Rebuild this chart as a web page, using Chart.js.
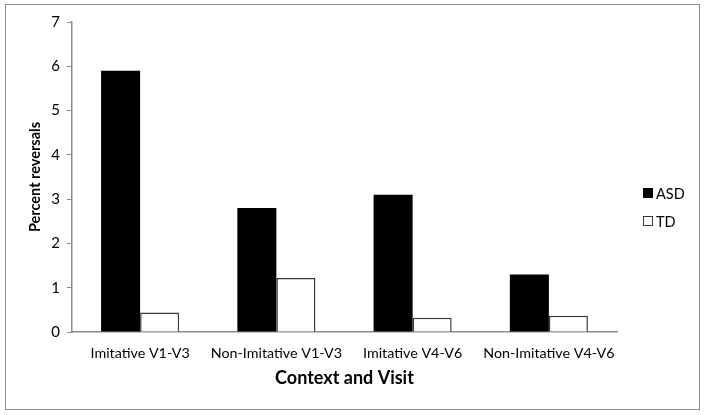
<!DOCTYPE html>
<html>
<head>
<meta charset="utf-8">
<script src="https://cdn.jsdelivr.net/npm/chart.js@4"></script>
<style>
    html, body { margin: 0; padding: 0; background: #fff; }
    #box {
        position: absolute;
        left: 5px; top: 4px;
        width: 693px; height: 404px;
        border: 1px solid #8c8c8c;
    }
</style>
</head>
<body>
<div id="box"><canvas id="chart" width="693" height="404"></canvas></div>
<script>
const categories = ["Imitative V1-V3", "Non-Imitative V1-V3", "Imitative V4-V6", "Non-Imitative V4-V6"];
const asdValues = [5.9, 2.8, 3.1, 1.3];
const tdValues = [0.44, 1.22, 0.32, 0.37];
const seriesNames = ["ASD", "TD"];
const yTicks = [0, 1, 2, 3, 4, 5, 6, 7];

const FONT = "Lato, 'Open Sans', sans-serif";
const AXIS = "#8c8c8c";

// legend drawn on the right, centred on the whole frame like the original
const sideLegend = {
    id: "sideLegend",
    afterDraw(chart) {
        const ctx = chart.ctx;
        const x = chart.chartArea.right + 26;
        const y0 = 188;
        ctx.save();
        ctx.font = "14.5px " + FONT;
        ctx.textBaseline = "middle";
        chart.data.datasets.forEach((ds, i) => {
            const y = y0 + i * 28;
            ctx.fillStyle = ds.backgroundColor;
            ctx.fillRect(x, y - 5, 10, 10);
            ctx.strokeStyle = ds.borderColor;
            ctx.lineWidth = 1;
            ctx.strokeRect(x + 0.5, y - 4.5, 9, 9);
            ctx.fillStyle = "#000";
            ctx.fillText(ds.label, x + 13, y + 1);
        });
        ctx.restore();
    }
};

new Chart(document.getElementById("chart").getContext("2d"), {
    type: "bar",
    data: {
        labels: categories,
        datasets: [
            {
                label: seriesNames[0],
                data: asdValues,
                backgroundColor: "#000000",
                borderColor: "#000000",
                borderWidth: 0
            },
            {
                label: seriesNames[1],
                data: tdValues,
                backgroundColor: "#ffffff",
                borderColor: "#3a3a3a",
                borderWidth: 1.5,
                borderSkipped: "start"
            }
        ]
    },
    options: {
        responsive: false,
        animation: false,
        layout: { padding: { left: 0, right: 82, top: 17, bottom: 20 } },
        datasets: { bar: { barPercentage: 1, categoryPercentage: 0.573 } },
        plugins: { legend: { display: false }, tooltip: { enabled: false } },
        scales: {
            x: {
                grid: { display: false, drawTicks: false },
                border: { color: AXIS, width: 1.5 },
                ticks: {
                    color: "#000", padding: 12.6, autoSkip: false,
                    maxRotation: 0, minRotation: 0,
                    font: { family: FONT, size: 14.3 }
                },
                title: {
                    display: true, text: "Context and Visit", color: "#000",
                    font: { family: FONT, size: 18, weight: "bold" },
                    padding: { top: -7, bottom: 0 }
                }
            },
            y: {
                min: 0, max: 7,
                afterBuildTicks: (s) => { s.ticks = yTicks.map(v => ({ value: v })); },
                afterFit: (s) => { s.width = 66; },
                grid: { drawOnChartArea: false, drawTicks: true, tickLength: 5, color: AXIS },
                border: { color: AXIS, width: 1.5 },
                ticks: { color: "#000", padding: 7, font: { family: FONT, size: 15 } },
                title: {
                    display: true, text: "Percent reversals", color: "#000",
                    font: { family: FONT, size: 14.5, weight: "bold" },
                    padding: { top: 21, bottom: 0 }
                }
            }
        }
    },
    plugins: [sideLegend]
});
</script>
</body>
</html>
